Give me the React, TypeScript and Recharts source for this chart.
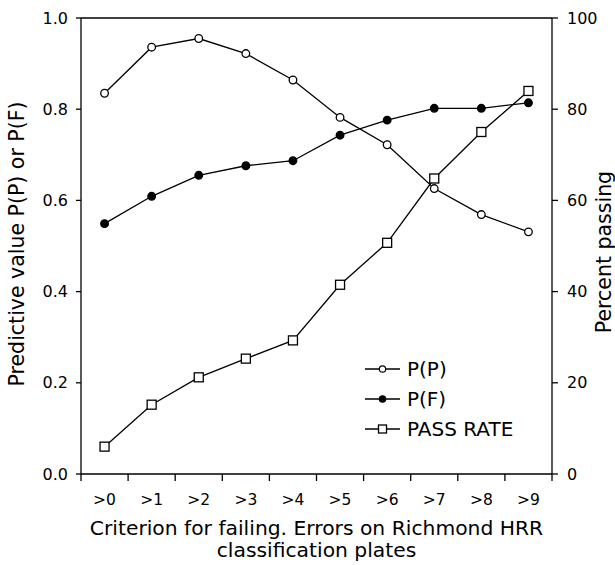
import { LineChart, Line, XAxis, YAxis, ReferenceLine } from "recharts";

const criteria = [">0", ">1", ">2", ">3", ">4", ">5", ">6", ">7", ">8", ">9"];
const predictivePassing = [0.835, 0.936, 0.955, 0.922, 0.864, 0.782, 0.722, 0.626, 0.569, 0.531];
const predictiveFailing = [0.549, 0.609, 0.655, 0.676, 0.687, 0.743, 0.776, 0.802, 0.802, 0.814];
const passRate = [6.0, 15.2, 21.2, 25.3, 29.3, 41.5, 50.7, 64.8, 75.0, 84.0];
const leftTicks = [0, 0.2, 0.4, 0.6, 0.8, 1.0];
const rightTicks = [0, 20, 40, 60, 80, 100];

const data = criteria.map((c, i) => ({
    criterion: c,
    pp: predictivePassing[i],
    pf: predictiveFailing[i],
    pass: passRate[i],
}));

const W = 615;
const H = 565;
const LEFT_W = 81;
const RIGHT_W = 63;
const TOP = 18;
const X_H = 91;
const band = (W - LEFT_W - RIGHT_W) / criteria.length;
const FONT = "'DejaVu Sans', Verdana, sans-serif";

const XTick = (props: any) => {
    const { x, y, payload, index } = props;
    return (
        <g>
            <line x1={x - band / 2} y1={y} x2={x - band / 2} y2={y + 7} stroke="#000" strokeWidth={1.3} />
            {index === criteria.length - 1 && (
                <line x1={x + band / 2} y1={y} x2={x + band / 2} y2={y + 7} stroke="#000" strokeWidth={1.3} />
            )}
            <text x={x} y={y + 31} textAnchor="middle" fontSize={15.5} fill="#000" fontFamily={FONT}>
                {payload.value}
            </text>
        </g>
    );
};

const XTitle = (props: any) => {
    const { viewBox } = props;
    const cx = viewBox.x + viewBox.width / 2;
    return (
        <text textAnchor="middle" fontSize={20.3} fill="#000" fontFamily={FONT}>
            <tspan x={cx} y={viewBox.y + 61}>Criterion for failing. Errors on Richmond HRR</tspan>
            <tspan x={cx} y={viewBox.y + 83}>classification plates</tspan>
        </text>
    );
};

const LeftTitle = (props: any) => {
    const { viewBox } = props;
    const cx = viewBox.x + 17;
    const cy = 244;
    return (
        <text x={cx} y={cy} transform={`rotate(-90 ${cx} ${cy})`} textAnchor="middle" dominantBaseline="central"
            fontSize={20.5} fill="#000" fontFamily={FONT}>
            Predictive value P(P) or P(F)
        </text>
    );
};

const RightTitle = (props: any) => {
    const { viewBox } = props;
    const cx = viewBox.x + 52;
    const cy = 252;
    return (
        <text x={cx} y={cy} transform={`rotate(-90 ${cx} ${cy})`} textAnchor="middle" dominantBaseline="central"
            fontSize={20.5} fill="#000" fontFamily={FONT}>
            Percent passing
        </text>
    );
};

const SquareDot = (props: any) => {
    const { cx, cy, index } = props;
    return (
        <rect key={`sq-${index}`} x={cx - 4.5} y={cy - 4.5} width={9} height={9}
            fill="#fff" stroke="#000" strokeWidth={1.3} />
    );
};

const legendItems = [
    { label: "P(P)", marker: "open" },
    { label: "P(F)", marker: "filled" },
    { label: "PASS RATE", marker: "square" },
];

const LegendBox = () => (
    <svg width={180} height={90}>
        {legendItems.map((item, i) => {
            const cy = 14 + i * 30;
            return (
                <g key={item.label}>
                    <line x1={0} y1={cy} x2={35} y2={cy} stroke="#000" strokeWidth={1.3} />
                    {item.marker === "square" ? (
                        <rect x={13.5} y={cy - 4} width={8} height={8} fill="#fff" stroke="#000" strokeWidth={1.3} />
                    ) : (
                        <circle cx={17.5} cy={cy} r={3.2} fill={item.marker === "filled" ? "#000" : "#fff"}
                            stroke="#000" strokeWidth={1.2} />
                    )}
                    <text x={42} y={cy + 7} fontSize={20} fill="#000" fontFamily={FONT}>
                        {item.label}
                    </text>
                </g>
            );
        })}
    </svg>
);

export default function App() {
    return (
        <div style={{ position: "absolute", left: 0, top: 0, width: W, height: H, background: "#fff" }}>
            <LineChart width={W} height={H} data={data} margin={{ top: TOP, right: 0, bottom: 0, left: 0 }}>
                <XAxis dataKey="criterion" scale="band" height={X_H} tickLine={false} tickSize={0} tickMargin={0}
                    tick={<XTick />} stroke="#000" strokeWidth={1.3} interval={0} label={<XTitle />} />
                <YAxis yAxisId="left" width={LEFT_W} domain={[0, 1]} ticks={leftTicks}
                    tickFormatter={(v: number) => v.toFixed(1)} tickSize={5} tickMargin={8}
                    stroke="#000" strokeWidth={1.3}
                    tick={{ fill: "#000", fontSize: 16, fontFamily: FONT }} label={<LeftTitle />} />
                <YAxis yAxisId="right" orientation="right" width={RIGHT_W} domain={[0, 100]} ticks={rightTicks}
                    tickSize={6} tickMargin={9} stroke="#000" strokeWidth={1.3}
                    tick={{ fill: "#000", fontSize: 16, fontFamily: FONT }} label={<RightTitle />} />
                <ReferenceLine yAxisId="left" y={1} stroke="#000" strokeWidth={1.3} />
                <Line yAxisId="left" type="linear" dataKey="pp" stroke="#000" strokeWidth={1.3}
                    dot={{ r: 3.8, fill: "#fff", stroke: "#000", strokeWidth: 1.3 }} isAnimationActive={false} />
                <Line yAxisId="left" type="linear" dataKey="pf" stroke="#000" strokeWidth={1.3}
                    dot={{ r: 3.8, fill: "#000", stroke: "#000", strokeWidth: 1.3 }} isAnimationActive={false} />
                <Line yAxisId="right" type="linear" dataKey="pass" stroke="#000" strokeWidth={1.3}
                    dot={<SquareDot />} isAnimationActive={false} />
            </LineChart>
            <div style={{ position: "absolute", left: 365, top: 355 }}>
                <LegendBox />
            </div>
        </div>
    );
}
